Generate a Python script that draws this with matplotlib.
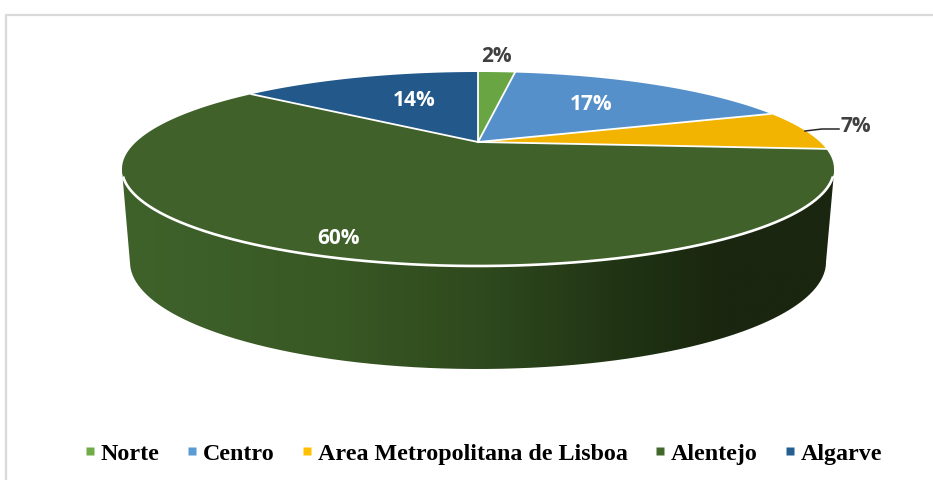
import numpy as np
import matplotlib.pyplot as plt
from matplotlib.lines import Line2D
from matplotlib.colors import LinearSegmentedColormap
from matplotlib.patches import PathPatch
from matplotlib.path import Path

regions = ['Norte', 'Centro', 'Area Metropolitana de Lisboa', 'Alentejo', 'Algarve']
shares = [2.2, 17.2, 6.8, 59.6, 14.2]
colors = ['#6aa544', '#5590ca', '#f2b400', '#40612a', '#22588a']
legend_colors = ['#70ad47', '#5b9bd5', '#ffc000', '#43682b', '#255e91']

# label layout, in pixels
label_xy = [(496, 55), (591, 103), (856, 125), (338, 237), (414, 99)]
label_col = ['#404040', 'white', '#404040', 'white', 'white']

# top face is a circle seen in perspective, so the apex is above the ellipse centre
cx, cy, a, b = 478, 169, 356, 97
apex_up = 27
k = 2 * apex_up / (2 * b)


def top_point(t):
    # t is clockwise from twelve o'clock, radians
    u, v = np.sin(t), np.cos(t)
    w = 1 + k * v
    return cx + a * np.sqrt(1 - k ** 2) * u / w, cy - (apex_up + b * v) / w


fig = plt.figure(figsize=(9.33, 4.81), dpi=100)
ax = fig.add_axes([0, 0, 1, 1])
ax.axis('off')

# chart frame
ax.plot([5.5, 5.5, 933], [481, 14.5, 14.5], color='#d9d9d9', lw=1.6, solid_capstyle='butt')

# side wall with horizontal gradient
t_front = np.linspace(np.pi / 2, 3 * np.pi / 2, 300)
front_x, front_y = top_point(t_front)
s = np.linspace(0, np.pi, 300)
low_x = 478 + 348 * np.cos(s)
low_y = 262 + 107 * np.sin(s)
side_x = np.r_[122.5, low_x[::-1], 833.5, front_x]
side_y = np.r_[176, low_y[::-1], 178, front_y]
side_patch = PathPatch(Path(np.c_[side_x, side_y]), fc='none', ec='none', transform=ax.transData)
ax.add_patch(side_patch)
side_cmap = LinearSegmentedColormap.from_list(
    'side', [(0, '#3f622b'), (0.3, '#385824'), (0.5, '#2f4a1e'), (0.72, '#1f3213'), (0.85, '#1a260f'), (1, '#1a260f')])
grad = ax.imshow(np.linspace(0, 1, 400)[None, :], extent=(122, 834, 369, 170), cmap=side_cmap,
                 aspect='auto', zorder=1)
grad.set_clip_path(side_patch)
ax.set_xlim(0, 933)
ax.set_ylim(480, -1)

# top face
apex_x, apex_y = cx, cy - apex_up
edges = np.r_[0, np.cumsum(shares)] / np.sum(shares) * 2 * np.pi
for i in range(len(shares)):
    t = np.linspace(edges[i], edges[i + 1], 200)
    x, y = top_point(t)
    ax.fill(np.r_[apex_x, x], np.r_[apex_y, y], fc=colors[i], ec='none', zorder=3)
for e in edges[:-1]:
    x, y = top_point(e)
    ax.plot([apex_x, x], [apex_y, y], color='white', lw=1.3, zorder=4)

# white line where the top meets the wall, not quite up to the widest points
keep = front_y > cy + 8
ax.plot(front_x[keep], front_y[keep], color='white', lw=1.9, zorder=5)

# leader line for the 7% label
ax.plot([805, 822, 839], [131, 129, 129], color='#262626', lw=1.1, zorder=5)

for i in range(len(shares)):
    ax.text(label_xy[i][0], label_xy[i][1] + 1, '%.0f%%' % shares[i], color=label_col[i],
            family='Open Sans', weight='bold', fontsize=15, ha='center', va='center', zorder=6)

handles = [Line2D([], [], ls='none', marker='s', ms=5.5, mfc=c, mec='none') for c in legend_colors]
ax.legend(handles, regions, loc='center', bbox_to_anchor=(483 / 933, 1 - 454.5 / 481), ncol=5, frameon=False,
          prop={'family': 'Liberation Serif', 'weight': 'bold', 'size': 17.3},
          handlelength=0.5, handletextpad=0.2, columnspacing=1.1, labelcolor='black')

fig.savefig('out.png', dpi=100)
